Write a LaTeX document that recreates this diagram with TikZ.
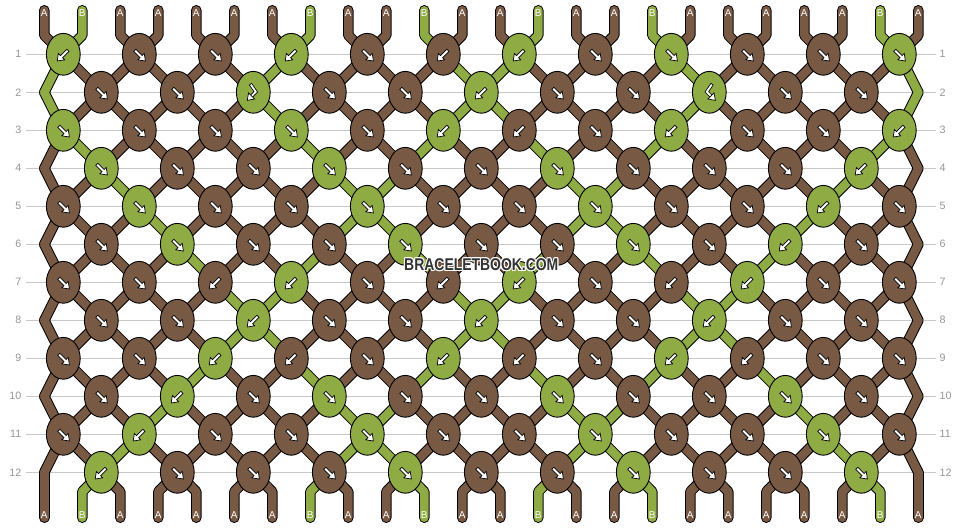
\documentclass[tikz,border=0pt]{standalone}
\usepackage{fontspec}
\setmainfont{Liberation Sans}
\definecolor{colA}{RGB}{120,89,68}
\definecolor{colB}{RGB}{143,171,67}
\definecolor{numgray}{RGB}{150,150,150}
\definecolor{linegray}{RGB}{200,200,200}
\definecolor{wmgray}{RGB}{50,50,50}

% knot types: F forward, B backward, P hook (colour of right string), Q hook (colour of left string)
\expandafter\def\csname krow1\endcsname{B,F,F,B,F,B,B,F,F,F,F,F}
\expandafter\def\csname krow2\endcsname{F,F,P,F,F,B,F,F,Q,F,F}
\expandafter\def\csname krow3\endcsname{F,F,F,F,F,B,B,F,B,F,F,B}
\expandafter\def\csname krow4\endcsname{F,F,F,F,F,F,F,F,F,F,B}
\expandafter\def\csname krow5\endcsname{F,F,F,F,F,F,F,F,F,F,B,F}
\expandafter\def\csname krow6\endcsname{F,F,F,F,F,F,F,F,F,B,F}
\expandafter\def\csname krow7\endcsname{F,F,B,B,F,B,B,F,B,B,F,F}
\expandafter\def\csname krow8\endcsname{F,F,B,F,F,B,F,F,B,F,F}
\expandafter\def\csname krow9\endcsname{F,F,B,B,F,B,B,F,B,B,F,F}
\expandafter\def\csname krow10\endcsname{F,B,F,F,F,F,F,F,F,F,F}
\expandafter\def\csname krow11\endcsname{F,B,F,F,F,F,F,F,F,F,F,F}
\expandafter\def\csname krow12\endcsname{B,F,F,F,F,F,F,F,F,F,F}
\def\initstrings{A,B,A,A,A,A,A,B,A,A,B,A,A,B,A,A,B,A,A,A,A,A,B,A}

\newcommand\slotx[1]{\pgfmathsetmacro\sx{44.3+38*(#1-1)}}
\newcommand\rowy[1]{\pgfmathsetmacro\ry{-(54.3+38*(#1-1))}}
\newcommand\getpx[2]{%
  \pgfmathtruncatemacro\gpodd{mod(#1,2)}%
  \ifnum\gpodd=1
    \pgfmathtruncatemacro\gpL{#2-1+mod(#2,2)}%
    \pgfmathsetmacro\px{44.3+38*(\gpL-1)+19}%
  \else
    \pgfmathtruncatemacro\gpL{#2-mod(#2,2)}%
    \ifnum\gpL=0 \pgfmathsetmacro\px{44.3+38*(#2-1)}%
    \else\ifnum\gpL=24 \pgfmathsetmacro\px{44.3+38*(#2-1)}%
    \else \pgfmathsetmacro\px{44.3+38*(\gpL-1)+19}\fi\fi
  \fi}
\newcommand\arrshape{\filldraw[arrowsty] (-7.3,1.5)--(1.6,1.5)--(1.6,4.5)--(7.8,0)--(1.6,-4.5)--(1.6,-1.5)--(-7.3,-1.5)--cycle;}
\newcommand\arrF[2]{\begin{scope}[shift={(#1+0.6,#2-1.2)},rotate=-45]\arrshape\end{scope}}
\newcommand\arrB[2]{\begin{scope}[shift={(#1-0.6,#2-1.2)},rotate=-135]\arrshape\end{scope}}
\newcommand\arrP[2]{\begin{scope}[shift={(#1,#2)}]
  \draw[black,line width=3.4pt,line cap=rect,line join=miter] (-2,7) -- (2.5,0.5) -- (-2,-4);
  \draw[white,line width=1.8pt,line cap=rect,line join=miter] (-2,7) -- (2.5,0.5) -- (-2,-4);
  \begin{scope}[shift={(-2,-4)},rotate=-135]\filldraw[arrowsty] (-0.5,4.3)--(5.8,0)--(-0.5,-4.3)--cycle;\end{scope}
  \end{scope}}
\newcommand\arrQ[2]{\begin{scope}[shift={(#1,#2)}]
  \draw[black,line width=3.4pt,line cap=rect,line join=miter] (2,7) -- (-2.5,0.5) -- (2,-4);
  \draw[white,line width=1.8pt,line cap=rect,line join=miter] (2,7) -- (-2.5,0.5) -- (2,-4);
  \begin{scope}[shift={(2,-4)},rotate=-45]\filldraw[arrowsty] (-0.5,4.3)--(5.8,0)--(-0.5,-4.3)--cycle;\end{scope}
  \end{scope}}
\newcommand\addto[2]{\xdef#1{\unexpanded\expandafter{#1}#2}}

\begin{document}
\begin{tikzpicture}[x=1pt,y=1pt,
  strout/.style={line width=10.6pt, draw=black, line cap=round, line join=round},
  strfill/.style={line width=8.6pt, line cap=round, line join=round},
  knotsty/.style={draw=black, line width=0.9pt},
  arrowsty/.style={fill=white, draw=black, line width=0.7pt, line join=miter},
  rownum/.style={text=numgray, font=\fontsize{10.7}{12}\selectfont, inner sep=0pt},
  strlab/.style={text=white, font=\fontsize{10}{11}\selectfont, inner sep=0pt},
  wmsty/.style={font=\bfseries\fontsize{17}{19}\selectfont, inner sep=0pt, xscale=0.82, transform shape}]
\useasboundingbox (0,0) rectangle (962,-528);
\fill[white] (0,0) rectangle (962,-528);
\foreach \c [count=\ii] in \initstrings {\expandafter\xdef\csname st\ii\endcsname{\c}}
\gdef\SO{}\gdef\SF{}\gdef\KN{}

\foreach \rr in {1,...,12} {
  \rowy{\rr}
  \draw[linegray, line width=1.1pt] (26,\ry) -- (936,\ry);
  \node[rownum, anchor=east] (ln\rr) at (21.5,\ry) {\rr};
  \node[rownum, anchor=west] (rn\rr) at (939.5,\ry) {\rr};
}

\foreach \rr in {1,...,12} {
  \pgfmathtruncatemacro\rp{\rr-1}
  \rowy{\rp}\let\ya\ry
  \rowy{\rr}\let\yb\ry
  \foreach \ii in {1,...,24} {
    \getpx{\rr}{\ii}\let\xb\px
    \edef\segc{col\csname st\ii\endcsname}
    \ifnum\rr=1
      \slotx{\ii}
      \addto\SO{\noexpand\draw[strout] (\sx,-10.3) -- (\sx,-35.3) -- (\xb,\yb);}
      \addto\SF{\noexpand\draw[strfill,draw=\segc] (\sx,-10.3) -- (\sx,-35.3) -- (\xb,\yb);}
    \else
      \getpx{\rp}{\ii}\let\xa\px
      \addto\SO{\noexpand\draw[strout] (\xa,\ya) -- (\xb,\yb);}
      \addto\SF{\noexpand\draw[strfill,draw=\segc] (\xa,\ya) -- (\xb,\yb);}
    \fi
  }
  \expandafter\let\expandafter\klist\csname krow\rr\endcsname
  \pgfmathtruncatemacro\rodd{mod(\rr,2)}
  \foreach \kt [count=\kk] in \klist {
    \ifnum\rodd=1 \pgfmathtruncatemacro\li{2*\kk-1}\else\pgfmathtruncatemacro\li{2*\kk}\fi
    \pgfmathtruncatemacro\ri{\li+1}
    \pgfmathsetmacro\kx{44.3+38*(\li-1)+19}
    \edef\colL{\csname st\li\endcsname}
    \edef\colR{\csname st\ri\endcsname}
    \def\doswap{0}
    \if\kt F\edef\kc{\colL}\def\doswap{1}\fi
    \if\kt B\edef\kc{\colR}\def\doswap{1}\fi
    \if\kt P\edef\kc{\colR}\fi
    \if\kt Q\edef\kc{\colL}\fi
    \addto\KN{\noexpand\filldraw[knotsty, fill=col\kc] (\kx,\yb) ellipse [x radius=16.9, y radius=20.9];
      \expandafter\noexpand\csname arr\kt\endcsname{\kx}{\yb}}
    \if\doswap1
      \expandafter\xdef\csname st\li\endcsname{\colR}
      \expandafter\xdef\csname st\ri\endcsname{\colL}
    \fi
  }
}

\rowy{12}
\foreach \ii in {1,...,24} {
  \getpx{12}{\ii}\let\xa\px
  \slotx{\ii}
  \edef\segc{col\csname st\ii\endcsname}
  \addto\SO{\noexpand\draw[strout] (\xa,\ry) -- (\sx,-491.7) -- (\sx,-517.7);}
  \addto\SF{\noexpand\draw[strfill,draw=\segc] (\xa,\ry) -- (\sx,-491.7) -- (\sx,-517.7);}
}

\SO
\SF
\KN

\foreach \c [count=\ii] in \initstrings {\slotx{\ii}\node[strlab] (t\ii) at (\sx,-12.6) {\c};}
\foreach \ii in {1,...,24} {\slotx{\ii}\node[strlab] (b\ii) at (\sx,-515.4) {\csname st\ii\endcsname};}

\foreach \dx/\dy in {1.1/0,-1.1/0,0/1.1,0/-1.1,0.8/0.8,-0.8/0.8,0.8/-0.8,-0.8/-0.8} {
  \node[wmsty, text=white] at (481.3+\dx,-264.7+\dy) {BRACELETBOOK.COM};
}
\node[wmsty, text=wmgray] (wm) at (481.3,-264.7) {BRACELETBOOK.COM};
\end{tikzpicture}
\end{document}
